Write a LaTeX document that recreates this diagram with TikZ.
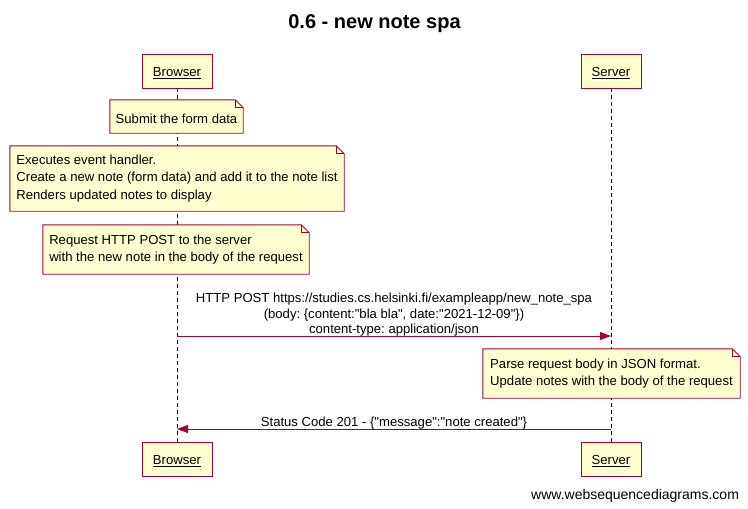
\documentclass[tikz,border=0pt]{standalone}
\usepackage{fontspec}
\setmainfont{Liberation Sans}[Ligatures=TeXOff]
\usetikzlibrary{positioning,calc,arrows.meta}
\frenchspacing
\definecolor{edge}{HTML}{A80036}
\definecolor{paper}{HTML}{FEFECE}
\pgfdeclarelayer{lines}
\pgfdeclarelayer{back}
\pgfsetlayers{lines,back,main}
\tikzset{
  txt/.style={font=\fontsize{13.1}{17.3}\selectfont},
  low/.style={execute at begin node={\rule{0pt}{13.6pt}}},
  actor/.style={txt,low,draw=edge,fill=paper,line width=0.9pt,inner sep=0pt},
  note/.style={txt,low,align=left,inner sep=0pt},
  notebd/.style={draw=edge,fill=paper,line width=0.9pt},
  life/.style={dashed,line width=0.9pt,dash pattern=on 4pt off 3pt},
  msg/.style={draw=edge,line width=0.9pt,-{Triangle[length=11pt,width=8pt]}},
}
\newcommand*{\fold}[1]{%
  \begin{pgfonlayer}{back}
  \filldraw[notebd] (#1.south west) -- (#1.south east) -- ([yshift=-8pt]#1.north east)
    -- ([xshift=-8pt]#1.north east) -- (#1.north west) -- cycle;
  \draw[notebd,fill=none] ([xshift=-8pt]#1.north east) |- ([yshift=-8pt]#1.north east);
  \end{pgfonlayer}}

\begin{document}
\begin{tikzpicture}[x=1pt,y=-1pt]
\useasboundingbox (0,0) rectangle (748,509);

% Title
\node[font=\fontsize{20}{24}\selectfont\bfseries] (title) at (374.5,24) {0.6 - new note spa};

% Participants
\node[actor,minimum width=70,minimum height=34] (bt) at (177,71) {\underline{Browser}};
\node[actor,minimum width=60,minimum height=34] (st) at (611,71) {\underline{Server}};
\node[actor,minimum width=70,minimum height=34] (bb) at (177,459) {\underline{Browser}};
\node[actor,minimum width=60,minimum height=34] (sb) at (611,459) {\underline{Server}};

% Lifelines
\begin{pgfonlayer}{lines}
\draw[life] (bt.south) -- (bb.north);
\draw[life] (st.south) -- (sb.north);
\end{pgfonlayer}

% Notes on the browser side
\node[note,minimum width=133,minimum height=33] (n1) at (176.5,116.5) {Submit the form data};
\fold{n1}
\node[note,minimum width=334,minimum height=65] (n2) at (177,178.5)
  {Executes event handler.\\Create a new note (form data) and add it to the note list\\Renders updated notes to display};
\fold{n2}
\node[note,minimum width=266,minimum height=49] (n3) at (176,249.5)
  {Request HTTP POST to the server\\with the new note in the body of the request};
\fold{n3}

% Request
\coordinate (b1) at (177,336);
\coordinate (s1) at (611,336);
\draw[msg] (b1) -- (s1);
\node[txt,align=center,font=\fontsize{13.1}{15.5}\selectfont,above=-4pt of $(b1)!0.5!(s1)$] (m1)
  {HTTP POST https://studies.cs.helsinki.fi/exampleapp/new\_note\_spa\\(body: \{content:"bla bla", date:"2021-12-09"\})\\content-type: application/json};

% Note on the server side
\node[note,minimum width=257,minimum height=49] (n4) at (611.5,373.5)
  {Parse request body in JSON format.\\Update notes with the body of the request};
\fold{n4}

% Response
\coordinate (s2) at (611,429);
\coordinate (b2) at (177,429);
\draw[msg] (s2) -- (b2);
\node[txt,above=-4pt of $(b2)!0.5!(s2)$] (m2) {Status Code 201 - \{"message":"note created"\}};

% Footer
\node[font=\fontsize{14}{16}\selectfont,anchor=east] (foot) at (742.5,496) {www.websequencediagrams.com};

\end{tikzpicture}
\end{document}
